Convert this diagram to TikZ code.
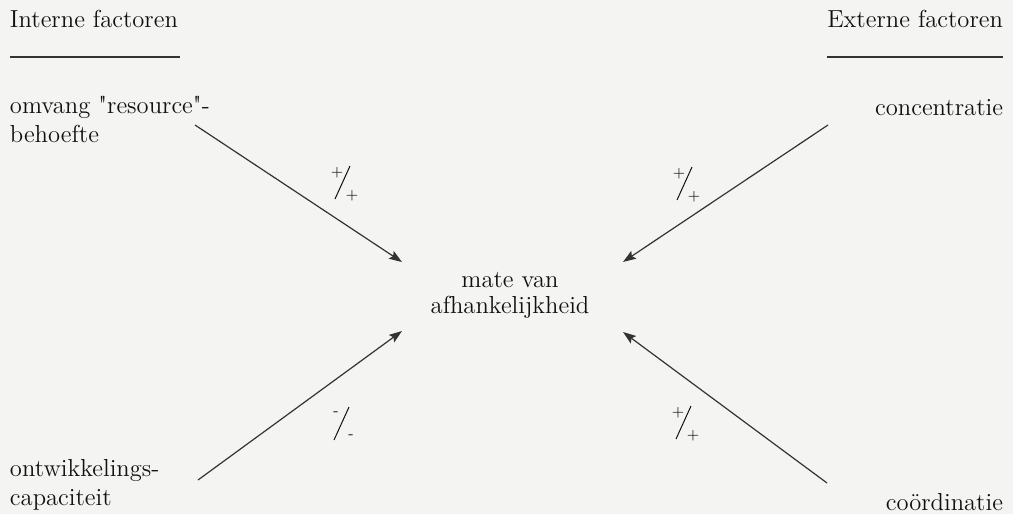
\documentclass[tikz,border=0pt]{standalone}
\usetikzlibrary{arrows.meta}
\definecolor{ink}{HTML}{111111}
\definecolor{linegray}{HTML}{333333}
\definecolor{paper}{HTML}{F4F4F3}
\newcommand\slashfrac[4]{%
  \begin{scope}[shift={(#2)}]
    \node[signtxt] (#1a) at (-7,-11) {#3};
    \node[signtxt] (#1b) at (8,12) {#4};
    \coordinate (#1s) at (-9,15);
    \coordinate (#1e) at (6,-18);
    \draw[slashline] (#1s) -- (#1e);
  \end{scope}}
\tikzset{
  txt/.style={inner sep=0pt, outer sep=0pt, text=ink, font=\fontsize{12.3}{14.5}\selectfont},
  ctxt/.style={txt, font=\fontsize{12.3}{13}\selectfont},
  signtxt/.style={inner sep=0pt, text=ink, font=\fontsize{7.5}{7.5}\selectfont},
  slashline/.style={draw=ink, line width=0.5pt},
  conn/.style={draw=linegray, line width=0.6pt, -{Stealth[length=6.5pt,width=4.6pt,inset=1.2pt]}},
  rule/.style={draw=linegray, line width=0.6pt}
}
\begin{document}
\begin{tikzpicture}[x=0.5pt,y=-0.5pt]
\fill[paper] (0,0) rectangle (1013,514);
\useasboundingbox (0,0) rectangle (1013,514);

\node[txt, anchor=base west] (int) at (10,27) {Interne factoren};
\node[txt, anchor=base east] (ext) at (1003,27) {Externe factoren};
\draw[rule] (10,57) -- (180,57);
\draw[rule] (827,57) -- (1003,57);

\node[txt, anchor=base west, align=left] (omv) at (10,142) {omvang \textquotedbl resource\textquotedbl-\\behoefte};
\node[txt, anchor=base east] (conc) at (1003,115) {concentratie};
\node[ctxt, anchor=base, align=center] (mate) at (510,313) {mate van\\afhankelijkheid};
\node[txt, anchor=base west, align=left] (ontw) at (10,505) {ontwikkelings-\\capaciteit};
\node[txt, anchor=base east] (coor) at (1003,510) {coördinatie};

\coordinate (s1) at (195,125);
\coordinate (e1) at (402,262);
\coordinate (s2) at (828,125);
\coordinate (e2) at (623,262);
\coordinate (s3) at (198,480);
\coordinate (e3) at (402,331);
\coordinate (s4) at (827,483);
\coordinate (e4) at (623,332);

\draw[conn] (s1) -- (e1);
\draw[conn] (s2) -- (e2);
\draw[conn] (s3) -- (e3);
\draw[conn] (s4) -- (e4);

\slashfrac{la}{344,184}{+}{+}
\slashfrac{lb}{686,185}{+}{+}
\slashfrac{lc}{343,425}{-}{-}
\slashfrac{ld}{685,424}{+}{+}
\end{tikzpicture}
\end{document}
